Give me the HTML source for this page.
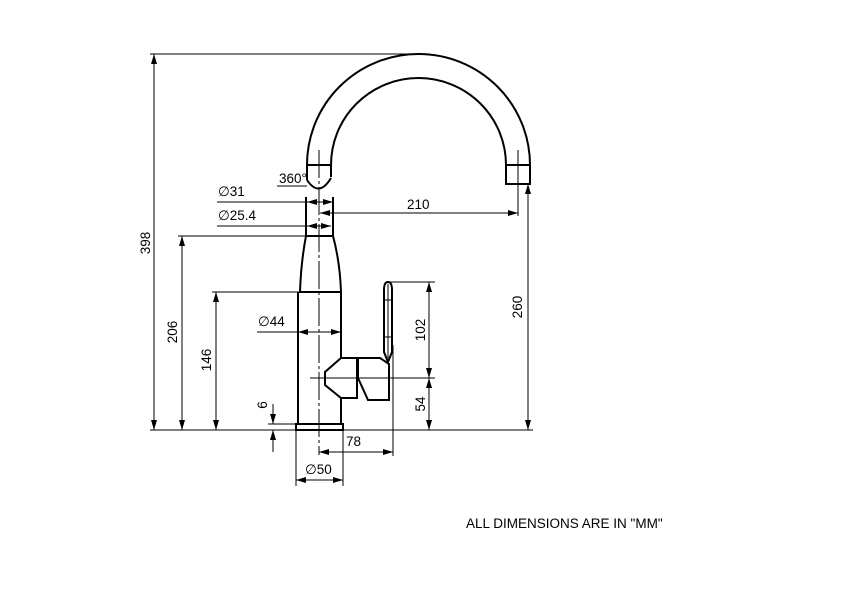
<!DOCTYPE html>
<html><head><meta charset="utf-8"><style>
html,body{margin:0;padding:0;background:#fff}
svg{display:block}
text{font-family:"Liberation Sans",sans-serif;font-size:13.5px;fill:#000}
</style></head><body>
<svg width="841" height="595" viewBox="0 0 841 595" xmlns="http://www.w3.org/2000/svg">
<defs>
<marker id="a" markerWidth="10" markerHeight="6" refX="10" refY="3" orient="auto" markerUnits="userSpaceOnUse"><path d="M0,0 L10,3 L0,6 Z" fill="#000"/></marker>
</defs>
<g fill="none" stroke="#000" stroke-width="1">
<line x1="150" y1="54" x2="418" y2="54"/>
<line x1="150" y1="430" x2="533" y2="430"/>
<line x1="178" y1="236" x2="306" y2="236"/>
<line x1="212" y1="292" x2="300" y2="292"/>
<line x1="388" y1="282" x2="435" y2="282"/>
<line x1="310" y1="378" x2="435" y2="378"/>
<line x1="268" y1="424" x2="296" y2="424"/>
<line x1="393" y1="345" x2="393" y2="456"/>
<line x1="296" y1="430" x2="296" y2="486"/>
<line x1="343" y1="430" x2="343" y2="486"/>
<line x1="217" y1="202" x2="307" y2="202"/>
<line x1="217" y1="226" x2="307" y2="226"/>
<line x1="518" y1="150" x2="518" y2="216"/>
<line x1="319" y1="150" x2="319" y2="455" stroke-dasharray="28,3,3,3"/>
<line x1="154" y1="240" x2="154" y2="54" marker-end="url(#a)"/>
<line x1="154" y1="240" x2="154" y2="430" marker-end="url(#a)"/>
<line x1="182" y1="330" x2="182" y2="236" marker-end="url(#a)"/>
<line x1="182" y1="330" x2="182" y2="430" marker-end="url(#a)"/>
<line x1="216" y1="360" x2="216" y2="292" marker-end="url(#a)"/>
<line x1="216" y1="360" x2="216" y2="430" marker-end="url(#a)"/>
<line x1="528" y1="300" x2="528" y2="184" marker-end="url(#a)"/>
<line x1="528" y1="300" x2="528" y2="430" marker-end="url(#a)"/>
<line x1="429" y1="330" x2="429" y2="282" marker-end="url(#a)"/>
<line x1="429" y1="330" x2="429" y2="378" marker-end="url(#a)"/>
<line x1="429" y1="404" x2="429" y2="378" marker-end="url(#a)"/>
<line x1="429" y1="404" x2="429" y2="430" marker-end="url(#a)"/>
<line x1="273" y1="404" x2="273" y2="424" marker-end="url(#a)"/>
<line x1="273" y1="452" x2="273" y2="430" marker-end="url(#a)"/>
<line x1="420" y1="213" x2="320" y2="213" marker-end="url(#a)"/>
<line x1="420" y1="213" x2="518" y2="213" marker-end="url(#a)"/>
<line x1="356" y1="452" x2="319" y2="452" marker-end="url(#a)"/>
<line x1="356" y1="452" x2="393" y2="452" marker-end="url(#a)"/>
<line x1="320" y1="480" x2="296" y2="480" marker-end="url(#a)"/>
<line x1="320" y1="480" x2="343" y2="480" marker-end="url(#a)"/>
<line x1="257" y1="332" x2="341" y2="332"/>
<line x1="320" y1="332" x2="298" y2="332" marker-end="url(#a)"/>
<line x1="320" y1="332" x2="341" y2="332" marker-end="url(#a)"/>
<line x1="320" y1="202" x2="307" y2="202" marker-end="url(#a)"/>
<line x1="320" y1="202" x2="333" y2="202" marker-end="url(#a)"/>
<line x1="320" y1="226" x2="307" y2="226" marker-end="url(#a)"/>
<line x1="320" y1="226" x2="331" y2="226" marker-end="url(#a)"/>
<line x1="277" y1="186" x2="307" y2="186"/>
</g>
<g fill="none" stroke="#000" stroke-width="2">
<path d="M307,180 L307,165 A111.5,111 0 0 1 530,165 L530,184 L506,184 L506,165 A87.5,87 0 0 0 331,165 L331,177"/>
<line x1="307" y1="165" x2="331" y2="165"/>
<line x1="506" y1="165" x2="530" y2="165"/>
<path d="M307,180 Q319,198 331,178"/>
<path d="M306,197 L306,236 L333,236 L333,197"/>
<path d="M306,236 Q301,262 300,292 L341,292 Q340,262 333,236"/>
<path d="M298,292 L298,424 M341,292 L341,358 M341,398 L341,424"/>
<rect x="296" y="424" width="47" height="6"/>
<path d="M341,358 L357,358 L357,398 L341,398 L325,385 L325,372 Z"/>
<path d="M358,358 L380,358 L389,364 L389,400 L368,400 L358,378 Z"/>
<path d="M384,352 L384,290 Q384,282 388,282 Q392,282 392,290 L392,352 L388,362 Z"/>
<line x1="388" y1="284" x2="388" y2="358" stroke-width="1"/>
<line x1="384" y1="300" x2="392" y2="300" stroke-width="1"/>
<line x1="384" y1="337" x2="392" y2="337" stroke-width="1"/>
</g>
<text x="218" y="196">∅31</text>
<text x="218" y="220">∅25.4</text>
<text x="279" y="183">360°</text>
<text x="407" y="209">210</text>
<text x="258" y="326">∅44</text>
<text x="346" y="446">78</text>
<text x="305" y="474">∅50</text>
<text transform="translate(150,243) rotate(-90)" text-anchor="middle">398</text>
<text transform="translate(177,332) rotate(-90)" text-anchor="middle">206</text>
<text transform="translate(211,360) rotate(-90)" text-anchor="middle">146</text>
<text transform="translate(522,307) rotate(-90)" text-anchor="middle">260</text>
<text transform="translate(425,330) rotate(-90)" text-anchor="middle">102</text>
<text transform="translate(425,404) rotate(-90)" text-anchor="middle">54</text>
<text transform="translate(267,405) rotate(-90)" text-anchor="middle">6</text>
<text x="466" y="528" style="font-size:13.5px">ALL DIMENSIONS ARE IN "MM"</text>
</svg>
</body></html>
